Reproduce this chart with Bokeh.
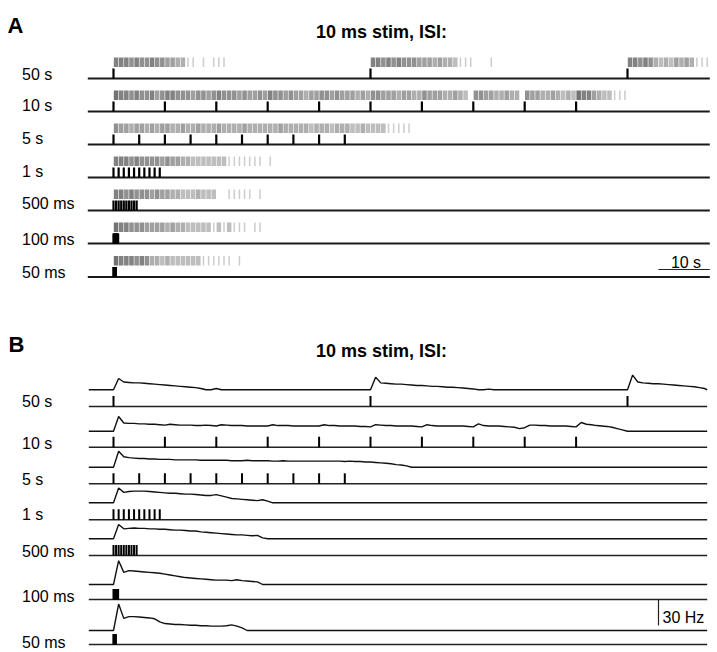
from bokeh.plotting import figure
from bokeh.models import Range1d
from bokeh.core.properties import value
from bokeh.embed import file_html
from bokeh.resources import INLINE

# ---------------- data ----------------
ISI_LABELS = ["50 s", "10 s", "5 s", "1 s", "500 ms", "100 ms", "50 ms"]
TITLE = "10 ms stim, ISI:"

STIM_50S = [0, 50, 100]
STIM_10S = [0, 10, 20, 30, 40, 50, 60, 70, 80, 90]
STIM_5S = [0, 5, 10, 15, 20, 25, 30, 35, 40, 45]
STIM_1S = [0, 1, 2, 3, 4, 5, 6, 7, 8, 9]
STIM_500MS = [0, 0.5, 1.0, 1.5, 2.0, 2.5, 3.0, 3.5, 4.0, 4.5]
STIM_100MS = [0, 0.1, 0.2, 0.3, 0.4, 0.5, 0.6, 0.7, 0.8, 0.9]
STIM_50MS = [0, 0.05, 0.1, 0.15, 0.2, 0.25, 0.3, 0.35, 0.4, 0.45]

# raster darkness per 1 s bin after each burst onset (0 = no spikes, 9 = darkest)
RASTER_50S = [
    [7, 7, 7, 6, 7, 6, 6, 7, 6, 6, 5, 5, 4, 4, 2, 2, 0, 2, 0, 2, 2, 2],
    [7, 7, 6, 7, 6, 7, 6, 6, 6, 5, 5, 5, 4, 5, 4, 4, 3, 2, 2, 2, 0, 0, 0, 2],
    [7, 7, 6, 7, 6, 4, 3, 4, 3, 5, 4, 5, 4, 2, 2, 2],
]
RASTER_10S = [8, 7, 7, 6, 7, 6, 6, 7, 5, 6,
              7, 7, 6, 6, 6, 5, 6, 6, 5, 6,
              7, 6, 6, 6, 5, 6, 5, 5, 6, 5,
              7, 6, 6, 5, 6, 5, 5, 4, 5, 5,
              6, 6, 5, 6, 5, 5, 5, 4, 5, 4,
              6, 6, 5, 5, 5, 4, 5, 5, 4, 4,
              6, 5, 5, 5, 4, 4, 5, 4, 3, 0,
              6, 6, 5, 5, 4, 4, 5, 4, 4, 0,
              6, 5, 5, 4, 4, 5, 4, 3, 4, 3,
              8, 7, 7, 5, 4, 3, 3, 2, 2, 2]
RASTER_5S = [6, 5, 5, 4, 5, 5, 4, 5, 4, 5,
             5, 4, 4, 5, 4, 4, 5, 4, 4, 4,
             5, 4, 4, 4, 4, 5, 4, 4, 4, 4,
             4, 4, 5, 4, 4, 4, 4, 4, 3, 4,
             4, 4, 3, 4, 4, 4, 3, 3, 4, 3,
             3, 3, 3, 2, 2, 2, 2, 2]
RASTER_1S = [7, 7, 7, 6, 7, 6, 6, 6, 6, 5, 6, 5, 5, 4, 4, 3, 3, 3, 3, 3,
             3, 3, 2, 2, 2, 2, 2, 2, 2, 0, 2]
RASTER_500MS = [7, 7, 6, 7, 6, 6, 6, 5, 6, 5, 5, 4, 4, 3, 3, 3, 4, 3, 3, 3,
                0, 0, 2, 2, 2, 2, 2, 0, 2]
RASTER_100MS = [8, 7, 7, 6, 6, 6, 5, 5, 5, 5, 4, 5, 4, 4, 3, 3, 3, 3, 3, 2,
                3, 2, 3, 2, 2, 2, 0, 2, 2]
RASTER_50MS = [8, 7, 7, 7, 6, 7, 6, 4, 4, 3, 4, 3, 3, 3, 3, 3, 3, 2, 2, 2,
               2, 2, 2, 0, 2]

# firing rate (Hz) per 1 s after each burst onset
RATE_50S = [
    [0, 13, 9, 8.5, 8, 8, 7.5, 7, 6.5, 6, 5.5, 5, 4.5, 4, 3.5, 3, 2.5, 1.5, 0, 0, 1.5, 0],
    [0, 14.5, 8, 7.5, 7, 6.5, 6.5, 6, 5.5, 5, 5, 4.5, 4, 4, 3.5, 3, 3, 2.5, 2, 1.5, 1, 0, 0, 0.8, 0],
    [0, 17, 9, 8, 7.5, 7, 7, 6.5, 6, 5.5, 5, 4.5, 4, 3.5, 2.5, 1.5],
]
RATE_10S = [0, 17, 9.5, 9, 9, 8.5, 8.5, 8, 8, 7.5,
            7, 8, 7.5, 7, 7, 7, 6.5, 6.5, 7, 6.5,
            6, 7.5, 7, 6.5, 6.5, 6.5, 6, 6, 6, 6,
            6, 7.5, 6.5, 6.5, 6.5, 6, 6, 6, 6, 6,
            6, 7.5, 6.5, 6.5, 6, 6, 6, 6, 5.5, 5.5,
            5, 7.5, 7, 6.5, 6.5, 6, 6, 6, 6, 5.5,
            5, 7.5, 6.5, 6, 6, 6, 6, 6, 6, 5.5,
            5, 8.5, 6.5, 6, 6, 6, 5.5, 5, 4.5, 3,
            4, 7, 7, 6.5, 6.5, 6, 6, 6, 6, 5.5,
            5, 10, 8, 7.5, 6.5, 6, 5.5, 4.5, 3, 1.5,
            0]
RATE_5S = [0, 18.5, 12, 11, 10.5, 10, 10, 9.5, 9.5, 9,
           9, 9, 8.5, 8.5, 8.5, 8.5, 8.5, 8, 8, 8,
           8, 8, 8, 7.5, 7.5, 7.5, 8, 7.5, 7.5, 7.5,
           7.5, 7, 7, 7.5, 7, 7, 7, 7, 7, 7,
           7, 7, 7, 7, 7, 6.5, 7, 6.5, 6.5, 6,
           6, 5.5, 5, 4.5, 4, 3, 2.5, 1.5, 0]
RATE_1S = [0, 17, 12, 13, 13.5, 13.5, 13.5, 13, 12.5, 12, 11.5, 11, 11, 10.5, 10, 10,
           9.5, 9, 8.5, 8.5, 9.5, 8, 6.5, 5, 4.5, 4, 3.5, 3, 2.5, 3.5, 2, 0]
RATE_500MS = [0, 16.5, 11.5, 12, 12.5, 12, 12, 11.5, 11.5, 11, 11, 10.5, 10, 10, 9.5, 9,
              9, 8, 7.5, 7, 6.5, 6, 5.5, 5, 4.5, 4.5, 4, 3.5, 4, 1, 0]
RATE_100MS = [0, 27.5, 14, 16, 15.5, 15, 14.5, 14, 13.5, 13, 12, 11, 10, 9, 8, 7.5,
              7, 6.5, 6, 5.5, 5, 5, 5, 4.5, 5.5, 4.5, 4, 3.5, 3, 0]
RATE_50MS = [0, 30.5, 14, 16, 16, 15.5, 15, 14.5, 13.5, 10, 8, 7.5, 7, 7, 6.5, 6,
             6, 5.5, 5.5, 5, 5, 5, 5.5, 6.5, 5, 3, 0]

SCALE_TIME_S = 10
SCALE_RATE_HZ = 30

STIMS = [STIM_50S, STIM_10S, STIM_5S, STIM_1S, STIM_500MS, STIM_100MS, STIM_50MS]
RASTERS = [list(zip(STIM_50S, RASTER_50S)), [(0, RASTER_10S)], [(0, RASTER_5S)],
           [(0, RASTER_1S)], [(0, RASTER_500MS)], [(0, RASTER_100MS)], [(0, RASTER_50MS)]]
RATES = [list(zip(STIM_50S, RATE_50S)), [(0, RATE_10S)], [(0, RATE_5S)],
         [(0, RATE_1S)], [(0, RATE_500MS)], [(0, RATE_100MS)], [(0, RATE_50MS)]]

# ---------------- layout ----------------
W, H = 717, 652
PX_PER_S = 5.14
T0_PX = 113             # page position of t = 0
PX_PER_HZ = 26.0 / 30.0

def tx(page_x):
    return (page_x - T0_PX) / PX_PER_S

X_START = tx(0)
X_END = tx(W)
Y_BOTTOM, Y_TOP = H, 0   # page pixel coordinates

A_BASE = [78, 111, 144, 177, 210, 243, 276.5]
A_LABEL_Y = [74, 105, 138.3, 170.5, 203.3, 239, 271.7]
B_RATE_BASE = [389.3, 430.7, 466.7, 502.3, 538.3, 584, 630]
B_STIM_BASE = [406, 446.7, 483.3, 519.3, 555, 599, 644]
B_LABEL_Y = [400.7, 442.7, 479, 514, 551, 595.7, 641.7]

A_T0, A_T1 = tx(87.3), tx(709.3)
B_T0, B_T1 = tx(88.3), tx(706.7)

FONT = value("Liberation Sans")

p = figure(width=W, height=H, x_range=Range1d(X_START, X_END),
           y_range=Range1d(Y_BOTTOM, Y_TOP), output_backend="svg",
           toolbar_location=None, min_border=0, x_axis_location=None,
           y_axis_location=None, outline_line_color=None,
           background_fill_color="white", border_fill_color="white")
p.xgrid.visible = False
p.ygrid.visible = False

# ---------- Panel A ----------
rl, rr, rt, rb, rc = [], [], [], [], []
for row, bursts in enumerate(RASTERS):
    b = A_BASE[row]
    for onset, shades in bursts:
        for i, s in enumerate(shades):
            if s == 0:
                continue
            t = onset + i
            if t + 0.85 > A_T1:
                continue
            w = 0.3 if s <= 2 else 0.88
            rl.append(t + 0.5 - w / 2)
            rr.append(t + 0.5 + w / 2)
            rt.append(b - 21)
            rb.append(b - 11.5)
            g = int(235 - 15 * s)
            rc.append("#%02x%02x%02x" % (g, g, g))
p.quad(left=rl, right=rr, top=rt, bottom=rb, fill_color=rc, line_color=None)

p.segment(x0=[A_T0] * 7, x1=[A_T1] * 7, y0=A_BASE, y1=A_BASE,
          line_width=2, line_color="#1a1a1a")
sx, sy0, sy1 = [], [], []
for row, st in enumerate(STIMS):
    for t in st:
        sx.append(t)
        sy0.append(A_BASE[row])
        sy1.append(A_BASE[row] - 10)
p.segment(x0=sx, x1=sx, y0=sy0, y1=sy1, line_width=2.2, line_color="black")

p.segment(x0=[A_T1 - SCALE_TIME_S], x1=[A_T1], y0=[269], y1=[269],
          line_width=1.2, line_color="#222")
p.text(x=[tx(685.5)], y=[262], text=["%d s" % SCALE_TIME_S], text_font=FONT,
       text_font_size="16px", text_align="center", text_baseline="alphabetic",
       text_color="black")

# ---------- Panel B ----------
p.segment(x0=[B_T0] * 7, x1=[B_T1] * 7, y0=B_STIM_BASE, y1=B_STIM_BASE,
          line_width=1.5, line_color="#222")
bx, by0, by1 = [], [], []
for row, st in enumerate(STIMS):
    for t in st:
        bx.append(t)
        by0.append(B_STIM_BASE[row])
        by1.append(B_STIM_BASE[row] - 10.5)
p.segment(x0=bx, x1=bx, y0=by0, y1=by1, line_width=2, line_color="black")

for row, bursts in enumerate(RATES):
    b = B_RATE_BASE[row]
    name = "rate%d" % row
    p.extra_y_ranges[name] = Range1d(-(Y_BOTTOM - b) / PX_PER_HZ, (b - Y_TOP) / PX_PER_HZ)
    xs, ys = [B_T0], [0]
    for onset, vals in bursts:
        for i, v in enumerate(vals):
            xs.append(onset + i)
            ys.append(v)
    xs.append(B_T1)
    ys.append(0)
    p.line(xs, ys, y_range_name=name, line_width=1.4, line_color="#111")

p.segment(x0=[tx(658)], x1=[tx(658)], y0=[5.8], y1=[5.8 + SCALE_RATE_HZ],
          y_range_name="rate6", line_width=1.2, line_color="#222")
p.text(x=[tx(662)], y=[616.7], text=["%d Hz" % SCALE_RATE_HZ], text_font=FONT,
       text_font_size="16px", text_align="left", text_baseline="alphabetic",
       text_color="black")

# ---------- texts ----------
p.text(x=[tx(21.5)] * 7, y=A_LABEL_Y, text=ISI_LABELS, text_font=FONT,
       text_font_size="16px", text_align="left", text_baseline="alphabetic",
       text_color="black")
p.text(x=[tx(21.5)] * 7, y=B_LABEL_Y, text=ISI_LABELS, text_font=FONT,
       text_font_size="16px", text_align="left", text_baseline="alphabetic",
       text_color="black")
p.text(x=[tx(381), tx(381)], y=[31, 350], text=[TITLE, TITLE], text_font=FONT,
       text_font_size="18px", text_font_style="bold", text_align="center",
       text_baseline="alphabetic", text_color="black")
p.text(x=[tx(7), tx(8)], y=[25, 344.3], text=["A", "B"], text_font=FONT,
       text_font_size="22px", text_font_style="bold", text_align="left",
       text_baseline="alphabetic", text_color="black")

open("out.html", "w").write(file_html(p, INLINE))
